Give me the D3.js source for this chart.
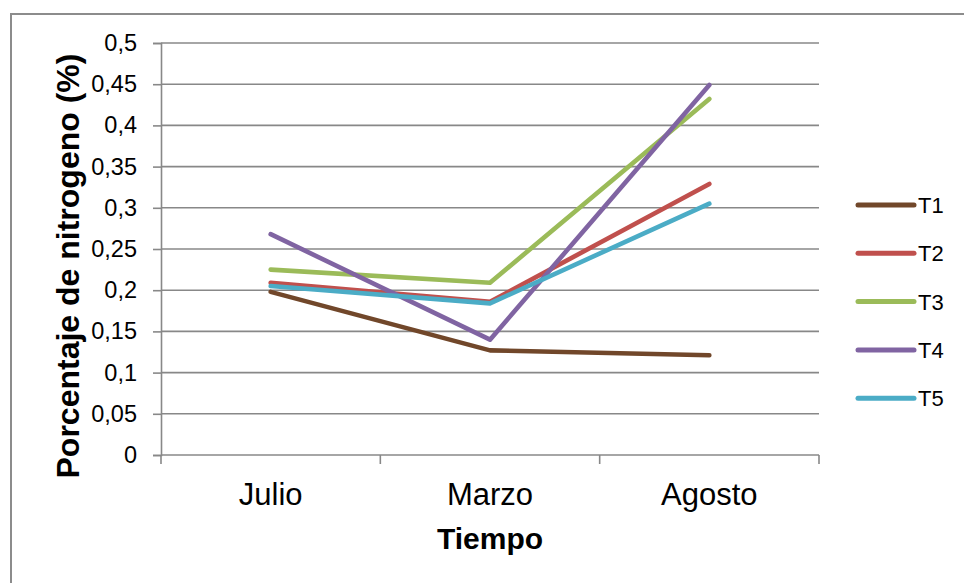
<!DOCTYPE html>
<html>
<head>
<meta charset="utf-8">
<script src="https://cdn.jsdelivr.net/npm/d3@7"></script>
<style>
  html, body { margin: 0; padding: 0; background: #fff; }
  svg { display: block; }
</style>
</head>
<body>
<svg id="chart" width="964" height="583"></svg>
<script>
// Nitrogen percentage per treatment across sampling months
const months = ["Julio", "Marzo", "Agosto"];
const seriesNames = ["T1", "T2", "T3", "T4", "T5"];
const t1 = [0.198, 0.127, 0.121];
const t2 = [0.209, 0.186, 0.329];
const t3 = [0.225, 0.209, 0.432];
const t4 = [0.268, 0.140, 0.449];
const t5 = [0.205, 0.184, 0.305];
const seriesColors = ["#71472A", "#C0504D", "#9BBB59", "#8064A2", "#4BACC6"];
const yTicks = [0, 0.05, 0.1, 0.15, 0.2, 0.25, 0.3, 0.35, 0.4, 0.45, 0.5];
const yTickLabels = ["0", "0,05", "0,1", "0,15", "0,2", "0,25", "0,3", "0,35", "0,4", "0,45", "0,5"];

const seriesValues = [t1, t2, t3, t4, t5];
const series = seriesNames.map((name, i) => ({
  name, color: seriesColors[i],
  values: months.map((m, j) => ({ month: m, value: seriesValues[i][j] }))
}));

const svg = d3.select("#chart");
const grey = "#888888";

// outer chart frame
svg.append("rect")
  .attr("x", 11).attr("y", 14)
  .attr("width", 970).attr("height", 600)
  .attr("fill", "none").attr("stroke", "#8c8c8c").attr("stroke-width", 2);

const plot = { left: 161, right: 819, top: 43, bottom: 455 };

const x = d3.scaleBand().domain(months).range([plot.left, plot.right]).padding(0);
const y = d3.scaleLinear().domain([0, 0.5]).range([plot.bottom, plot.top]);

// horizontal gridlines
svg.append("g").selectAll("line").data(yTicks.slice(1)).join("line")
  .attr("x1", plot.left).attr("x2", plot.right)
  .attr("y1", d => y(d)).attr("y2", d => y(d))
  .attr("stroke", grey).attr("stroke-width", 1.6);

// y axis
const yAxis = d3.axisLeft(y).tickValues(yTicks)
  .tickFormat((d, i) => yTickLabels[i]).tickSize(8).tickPadding(16);
const gy = svg.append("g").attr("transform", `translate(${plot.left},0)`).call(yAxis);
gy.select(".domain").attr("stroke", grey).attr("stroke-width", 1.6);
gy.selectAll(".tick line").attr("stroke", grey).attr("stroke-width", 1.6);
gy.selectAll(".tick text")
  .attr("font-family", "'Liberation Sans', Arial, sans-serif")
  .attr("font-size", 23.5).attr("fill", "#000");

// x axis: boundary ticks between categories
const gx = svg.append("g").attr("transform", `translate(0,${plot.bottom})`);
gx.append("line").attr("x1", plot.left).attr("x2", plot.right)
  .attr("stroke", grey).attr("stroke-width", 1.6);
const boundaries = months.map(m => x(m)).concat([x(months[months.length - 1]) + x.bandwidth()]);
gx.selectAll("line.tk").data(boundaries).join("line").attr("class", "tk")
  .attr("x1", d => d).attr("x2", d => d).attr("y1", 0).attr("y2", 9)
  .attr("stroke", grey).attr("stroke-width", 1.6);
gx.selectAll("text").data(months).join("text")
  .attr("x", d => x(d) + x.bandwidth() / 2).attr("y", 50)
  .attr("text-anchor", "middle")
  .attr("font-family", "'Liberation Sans', Arial, sans-serif")
  .attr("font-size", 31).attr("fill", "#000")
  .text(d => d);

// axis titles
svg.append("text")
  .attr("x", 490).attr("y", 549)
  .attr("text-anchor", "middle")
  .attr("font-family", "'Liberation Sans', Arial, sans-serif")
  .attr("font-weight", "bold").attr("font-size", 30)
  .text("Tiempo");
svg.append("text")
  .attr("transform", "translate(79,266) rotate(-90)")
  .attr("text-anchor", "middle")
  .attr("font-family", "'Liberation Sans', Arial, sans-serif")
  .attr("font-weight", "bold").attr("font-size", 32)
  .text("Porcentaje de nitrogeno (%)");

// series lines
const line = d3.line()
  .x(d => x(d.month) + x.bandwidth() / 2)
  .y(d => y(d.value));
svg.append("g").selectAll("path").data(series).join("path")
  .attr("d", d => line(d.values))
  .attr("fill", "none")
  .attr("stroke", d => d.color)
  .attr("stroke-width", 4.6)
  .attr("stroke-linecap", "round")
  .attr("stroke-linejoin", "round");

// legend
const legend = svg.append("g").selectAll("g").data(series).join("g")
  .attr("transform", (d, i) => `translate(858,${205 + i * 48.3})`);
legend.append("line")
  .attr("x1", 0).attr("x2", 56).attr("y1", 0).attr("y2", 0)
  .attr("stroke", d => d.color).attr("stroke-width", 5).attr("stroke-linecap", "round");
legend.append("text")
  .attr("x", 60).attr("y", 8)
  .attr("font-family", "'Liberation Sans', Arial, sans-serif")
  .attr("font-size", 22).attr("fill", "#000")
  .text(d => d.name);
</script>
</body>
</html>
